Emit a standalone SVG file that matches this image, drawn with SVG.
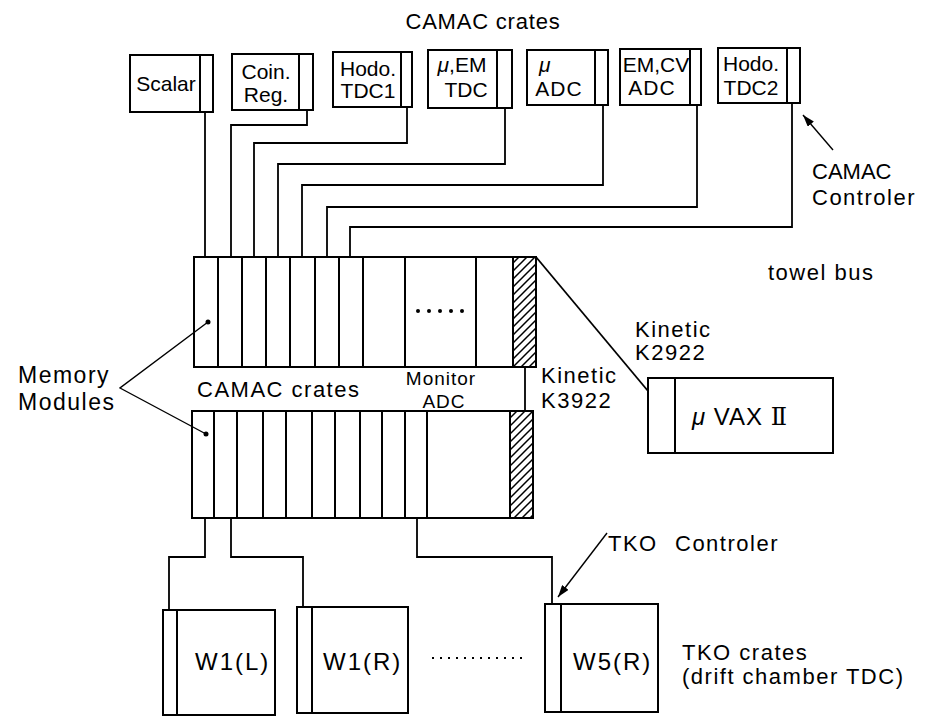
<svg xmlns="http://www.w3.org/2000/svg" width="936" height="716" viewBox="0 0 936 716">
<style>
.box{fill:#fff;stroke:#000;stroke-width:2}
.div{stroke:#000;stroke-width:2;fill:none}
.ln{stroke:#000;stroke-width:1.8;fill:none}
.thin{stroke:#000;stroke-width:1.4;fill:none}
.t{font-family:"Liberation Sans",Arial,sans-serif;font-size:21px;fill:#000}
.m{text-anchor:middle}
.lab{font-family:"Liberation Sans",Arial,sans-serif;font-size:22px;letter-spacing:1.5px;fill:#000}
.big{font-family:"Liberation Sans",Arial,sans-serif;font-size:24px;letter-spacing:2px;fill:#000}
</style>
<defs>
<pattern id="hatch" patternUnits="userSpaceOnUse" width="8" height="8">
<path d="M-2,2 L2,-2 M0,8 L8,0 M6,10 L10,6" stroke="#000" stroke-width="1.5"/>
</pattern>
<marker id="arr" viewBox="0 0 12 8" refX="12" refY="4" markerWidth="12" markerHeight="8" markerUnits="userSpaceOnUse" orient="auto">
<path d="M0,0 L12,4 L0,8 Z" fill="#000"/>
</marker>
</defs>
<rect width="936" height="716" fill="#fff"/>

<text class="t" x="483" y="29" text-anchor="middle" style="font-size:22px;letter-spacing:0.8px">CAMAC crates</text>

<g id="scalar">
<rect class="box" x="130" y="55" width="83" height="57"/>
<line class="div" x1="200" y1="55" x2="200" y2="112"/>
<text class="t m" x="166" y="91">Scalar</text>
</g>
<g id="coinreg">
<rect class="box" x="232" y="54" width="81" height="56"/>
<line class="div" x1="299" y1="54" x2="299" y2="110"/>
<text class="t m" x="266" y="79">Coin.</text>
<text class="t m" x="266" y="102">Reg.</text>
</g>
<g id="hodotdc1">
<rect class="box" x="333" y="52" width="79" height="55"/>
<line class="div" x1="401" y1="52" x2="401" y2="107"/>
<text class="t m" x="368" y="76">Hodo.</text>
<text class="t m" x="368" y="98">TDC1</text>
</g>
<g id="muemtdc">
<rect class="box" x="428" y="50" width="84" height="58"/>
<line class="div" x1="497" y1="50" x2="497" y2="108"/>
<text class="t m" x="462" y="72"><tspan font-style="italic">μ</tspan>,EM</text>
<text class="t m" x="466" y="97">TDC</text>
</g>
<g id="muadc">
<rect class="box" x="527" y="50" width="81" height="55"/>
<line class="div" x1="595" y1="50" x2="595" y2="105"/>
<text class="t" x="539" y="72" font-style="italic">μ</text>
<text class="t m" x="559" y="96" style="letter-spacing:1px">ADC</text>
</g>
<g id="emcvadc">
<rect class="box" x="620" y="49" width="81" height="56"/>
<line class="div" x1="690" y1="49" x2="690" y2="105"/>
<text class="t m" x="656" y="72">EM,CV</text>
<text class="t m" x="652" y="95" style="letter-spacing:1px">ADC</text>
</g>
<g id="hodotdc2">
<rect class="box" x="718" y="48" width="82" height="55"/>
<line class="div" x1="787" y1="48" x2="787" y2="103"/>
<text class="t m" x="751" y="71">Hodo.</text>
<text class="t m" x="751" y="95">TDC2</text>
</g>

<g id="camac-controler-label">
<text class="lab" x="812" y="179" style="letter-spacing:0px">CAMAC</text>
<text class="lab" x="812" y="205">Controler</text>
</g>
<text class="lab" x="768" y="280">towel bus</text>

<g id="upper-crate">
<rect class="box" x="194" y="257" width="342" height="110"/>
<rect x="513" y="257" width="23" height="110" fill="url(#hatch)" stroke="#000" stroke-width="2"/>
<path class="div" d="M218,257V367M242,257V367M266,257V367M290,257V367M315,257V367M339,257V367M363,257V367M405,257V367M476,257V367"/>
<g fill="#000"><circle cx="418" cy="311" r="2"/><circle cx="429" cy="311" r="2"/><circle cx="440" cy="311" r="2"/><circle cx="451" cy="311" r="2"/><circle cx="462" cy="311" r="2"/></g>
<circle cx="208" cy="322" r="2.5" fill="#000"/>
</g>

<g id="lower-crate">
<rect class="box" x="192" y="411" width="341" height="107"/>
<rect x="510" y="411" width="23" height="107" fill="url(#hatch)" stroke="#000" stroke-width="2"/>
<path class="div" d="M214,411V518M237,411V518M263,411V518M286,411V518M312,411V518M335,411V518M360,411V518M382,411V518M405,411V518M427,411V518"/>
<circle cx="206" cy="434" r="2.5" fill="#000"/>
</g>

<g id="labels-mid">
<text class="lab" x="197" y="397">CAMAC crates</text>
<text class="t m" x="441" y="385" style="font-size:19px;letter-spacing:1px">Monitor</text>
<text class="t m" x="444" y="408" style="font-size:19px;letter-spacing:1px">ADC</text>
<text class="lab" x="541" y="383">Kinetic</text>
<text class="lab" x="541" y="408">K3922</text>
<text class="lab" x="635" y="337">Kinetic</text>
<text class="lab" x="635" y="360">K2922</text>
<text class="lab" x="18" y="383" style="font-size:23px">Memory</text>
<text class="lab" x="18" y="410" style="font-size:23px">Modules</text>
</g>

<g id="muvax">
<rect class="box" x="648" y="378" width="185" height="75"/>
<line class="div" x1="675" y1="378" x2="675" y2="453"/>
<text class="big" x="692" y="425" style="letter-spacing:1px"><tspan font-style="italic">μ</tspan> VAX <tspan font-family="DejaVu Serif,serif">Ⅱ</tspan></text>
</g>

<g id="w1l">
<rect class="box" x="163" y="610" width="112" height="105"/>
<line class="div" x1="177" y1="610" x2="177" y2="715"/>
<text class="big" x="195" y="670">W1(L)</text>
</g>
<g id="w1r">
<rect class="box" x="297" y="607" width="111" height="106"/>
<line class="div" x1="312" y1="607" x2="312" y2="713"/>
<text class="big" x="323" y="670">W1(R)</text>
</g>
<g id="w5r">
<rect class="box" x="545" y="604" width="113" height="108"/>
<line class="div" x1="561" y1="604" x2="561" y2="712"/>
<text class="big" x="573" y="670">W5(R)</text>
</g>
<line x1="432" y1="658" x2="528" y2="658" stroke="#000" stroke-width="2" stroke-dasharray="2,6"/>
<text class="lab" x="682" y="660">TKO crates</text>
<text class="lab" x="682" y="684">(drift chamber TDC)</text>
<text class="lab" x="608" y="551">TKO</text>
<text class="lab" x="675" y="551">Controler</text>

<g id="connectors">
<path class="ln" d="M205,112V257"/>
<path class="ln" d="M307,110V125H231V257"/>
<path class="ln" d="M407,107V143H254V257"/>
<path class="ln" d="M505,108V164H278V257"/>
<path class="ln" d="M603,105V185H302V257"/>
<path class="ln" d="M697,105V207H327V257"/>
<path class="ln" d="M792,103V227H350V257"/>
<path class="ln" d="M525,367V411"/>
<path class="ln" d="M536,257L648,391"/>
<path class="ln" d="M205,518V557H169V610"/>
<path class="ln" d="M231,518V557H303V607"/>
<path class="ln" d="M417,518V557H552V604"/>
<path class="thin" d="M208,322L120,388L206,434"/>
<path class="thin" d="M833,150L803,115" marker-end="url(#arr)"/>
<path class="thin" d="M607,533L558,597" marker-end="url(#arr)"/>
</g>
</svg>
